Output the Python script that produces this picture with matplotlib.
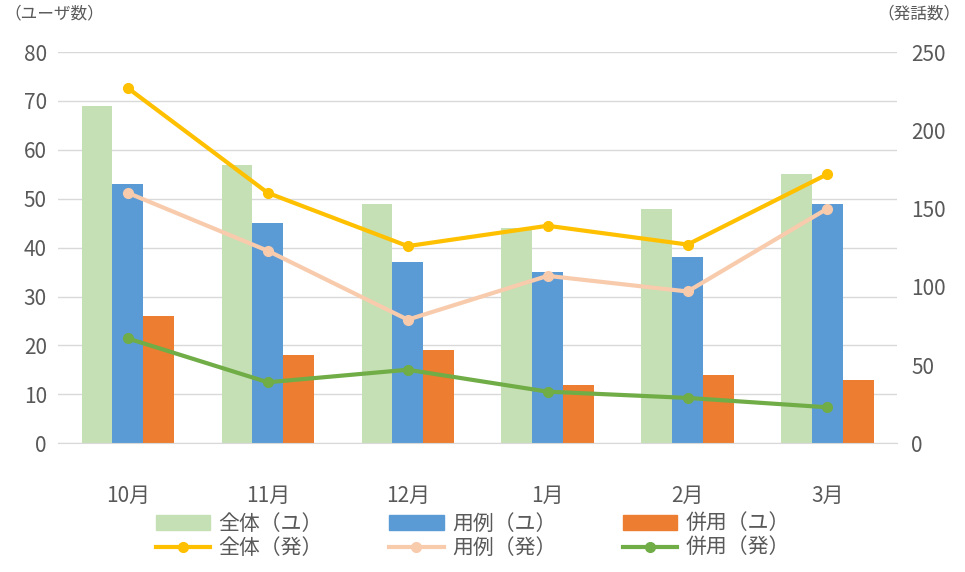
import numpy as np
import matplotlib.pyplot as plt
from matplotlib.lines import Line2D
from matplotlib.patches import Patch

plt.rcParams["font.family"] = "Noto Sans CJK JP"

months = ["10月", "11月", "12月", "1月", "2月", "3月"]
users_all = [69, 57, 49, 44, 48, 55]
users_example = [53, 45, 37, 35, 38, 49]
users_both = [26, 18, 19, 12, 14, 13]
utt_all = [227, 160, 126, 139, 127, 172]
utt_example = [160, 123, 79, 107, 97, 150]
utt_both = [67, 39, 47, 33, 29, 23]

C_ALL = "#c5e0b4"
C_EX = "#5b9bd5"
C_BOTH = "#ed7d31"
L_ALL = "#ffc000"
L_EX = "#f8cbad"
L_BOTH = "#70ad47"

fig = plt.figure(figsize=(9.65, 5.72), dpi=100)
ax = fig.add_axes([0.06, 0.225, 0.87, 0.684])
x = np.arange(len(months))
w = 0.22
ax.bar(x - w, users_all, w, color=C_ALL, zorder=2)
ax.bar(x, users_example, w, color=C_EX, zorder=2)
ax.bar(x + w, users_both, w, color=C_BOTH, zorder=2)
ax.set_ylim(0, 80)
ax.set_yticks(range(0, 81, 10))
ax.set_xlim(-0.5, len(months) - 0.5)
ax.set_xticks(x)
ax.set_xticklabels(months)
ax.grid(axis="y", color="#d9d9d9", lw=1, zorder=0)
for s in ["top", "right", "left"]:
    ax.spines[s].set_visible(False)
ax.spines["bottom"].set_color("#d9d9d9")
ax.tick_params(length=0, labelsize=15, colors="#595959", pad=8)
ax.tick_params(axis="x", pad=30)

ax2 = ax.twinx()
ax2.plot(x, utt_all, color=L_ALL, lw=3, marker="o", ms=7)
ax2.plot(x, utt_example, color=L_EX, lw=3, marker="o", ms=7)
ax2.plot(x, utt_both, color=L_BOTH, lw=3, marker="o", ms=7)
ax2.set_ylim(0, 250)
ax2.set_yticks(range(0, 251, 50))
for s in ax2.spines.values():
    s.set_visible(False)
ax2.tick_params(length=0, labelsize=15, colors="#595959", pad=10)

fig.text(0.005, 0.975, "（ユーザ数）", fontsize=12, color="#595959", va="center")
fig.text(0.995, 0.975, "（発話数）", fontsize=12, color="#595959", va="center", ha="right")

h_all_u, h_ex_u, h_both_u = Patch(color=C_ALL), Patch(color=C_EX), Patch(color=C_BOTH)
h_all_f = Line2D([], [], color=L_ALL, lw=3, marker="o", ms=7)
h_ex_f = Line2D([], [], color=L_EX, lw=3, marker="o", ms=7)
h_both_f = Line2D([], [], color=L_BOTH, lw=3, marker="o", ms=7)
handles = [h_all_u, h_all_f, h_ex_u, h_ex_f, h_both_u, h_both_f]
labels = ["全体（ユ）", "全体（発）", "用例（ユ）", "用例（発）", "併用（ユ）", "併用（発）"]
fig.legend(handles, labels, loc="lower center", bbox_to_anchor=(0.49, -0.01), ncol=3,
           frameon=False, fontsize=15, handlelength=2.6, columnspacing=3.2,
           labelspacing=0.1, handletextpad=0.4, labelcolor="#595959")

fig.savefig("out.png")
